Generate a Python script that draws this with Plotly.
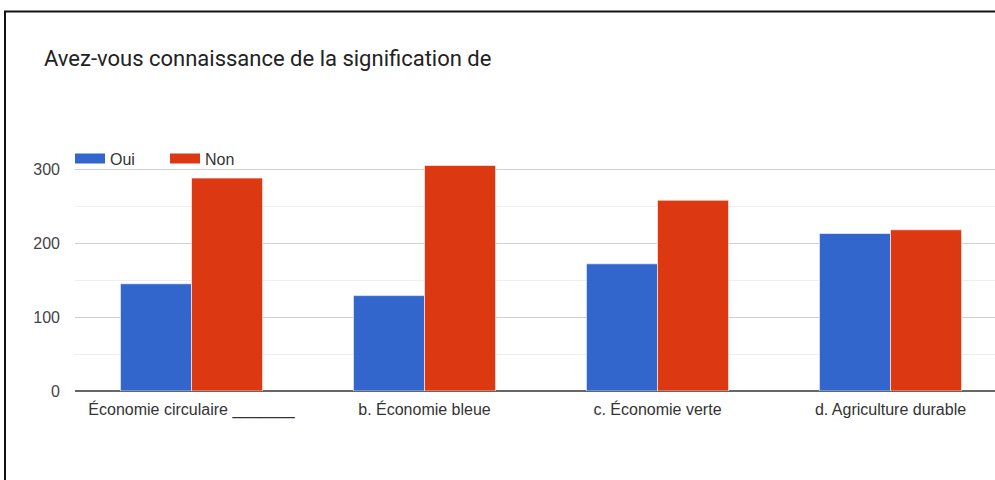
import plotly.graph_objects as go

categories = ["Économie circulaire _______", "b. Économie bleue", "c. Économie verte", "d. Agriculture durable"]
oui = [145, 129, 172, 213]
non = [288, 305, 258, 218]
y_ticks = [0, 100, 200, 300]
title_text = "Avez-vous connaissance de la signification de"

BLUE = "#3366cc"
RED = "#dc3912"

W, H = 995, 480
ML, MR, MT, MB = 75, 0, 146.5, 89.3
PW = W - ML - MR
PH = H - MT - MB

fig = go.Figure()
fig.add_trace(go.Bar(x=categories, y=oui, name="Oui", marker=dict(color=BLUE, line=dict(color="rgba(255,255,255,0.6)", width=1)), showlegend=False))
fig.add_trace(go.Bar(x=categories, y=non, name="Non", marker=dict(color=RED, line=dict(color="rgba(255,255,255,0.6)", width=1)), showlegend=False))
# legend proxies (wide swatches)
fig.add_trace(go.Scatter(x=[None], y=[None], mode="lines", name="Oui", line=dict(color=BLUE, width=14)))
fig.add_trace(go.Scatter(x=[None], y=[None], mode="lines", name="Non", line=dict(color=RED, width=14)))

def px_x(p):
    return (p - ML) / PW

def px_y(p):
    return (H - MB - p) / PH

fig.update_layout(
    width=W, height=H,
    margin=dict(l=ML, r=MR, t=MT, b=MB, autoexpand=False),
    paper_bgcolor="white", plot_bgcolor="white",
    barmode="group", bargap=0.39, bargroupgap=0.0,
    font=dict(family="Arial, Liberation Sans, sans-serif", color="#444444", size=16),
    title=dict(text=title_text, x=44 / W, xanchor="left", xref="container",
               y=1 - 58 / H, yanchor="middle", yref="container",
               font=dict(family="Roboto, sans-serif", size=22, color="#222222")),
    legend=dict(orientation="h", x=px_x(70), xanchor="left", y=px_y(158), yanchor="middle",
                bgcolor="rgba(0,0,0,0)", font=dict(size=16, color="#333333"),
                itemwidth=30, traceorder="normal", entrywidth=50, entrywidthmode="pixels"),
    xaxis=dict(range=[-0.5, -0.5 + PW / 233.0], showgrid=False, showline=False,
               ticks="", tickfont=dict(size=16, color="#333333"), ticklabelstandoff=7,
               fixedrange=True),
    yaxis=dict(range=[0, PH / 0.74], tickvals=y_ticks, showgrid=True, gridcolor="#d0d0d0", gridwidth=1,
               zeroline=True, zerolinecolor="#666666", zerolinewidth=1.5,
               tickfont=dict(size=16, color="#444444"), ticklabelstandoff=14,
               minor=dict(tick0=0, dtick=50, showgrid=True, gridcolor="#eeeeee", gridwidth=1),
               fixedrange=True),
    shapes=[
        dict(type="line", xref="paper", yref="paper", x0=px_x(5), x1=px_x(5), y0=px_y(11), y1=px_y(485),
             line=dict(color="#111111", width=2)),
        dict(type="line", xref="paper", yref="paper", x0=px_x(4), x1=px_x(1000), y0=px_y(11), y1=px_y(11),
             line=dict(color="#111111", width=2)),
    ],
)

fig.write_html("out.html", config={"displayModeBar": False},
               post_script="document.body.style.margin='0';document.body.style.overflow='hidden';")
